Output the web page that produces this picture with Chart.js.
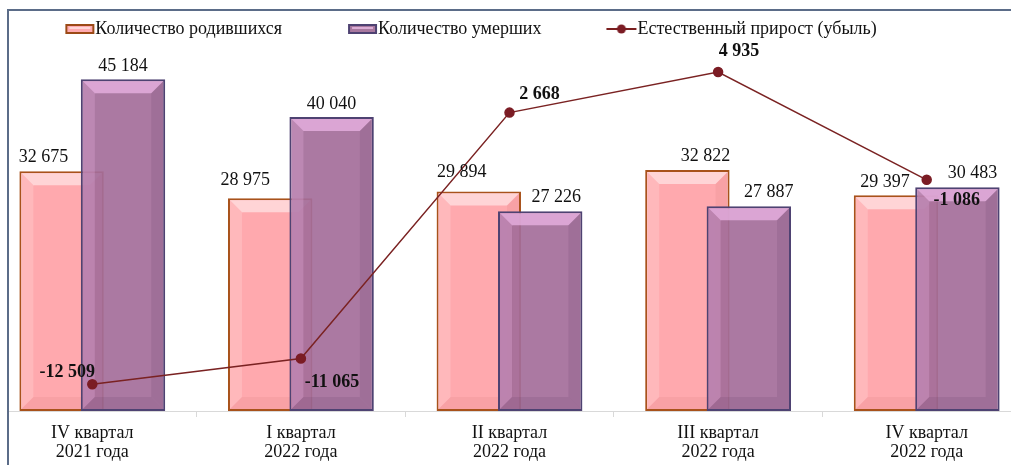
<!DOCTYPE html>
<html lang="ru">
<head>
<meta charset="utf-8">
<script src="https://cdn.jsdelivr.net/npm/chart.js@4.4.1/dist/chart.umd.min.js"></script>
<style>
  html, body { margin: 0; padding: 0; background: #fff; }
  body { width: 1011px; height: 465px; overflow: hidden; position: relative; }
  #box { position: absolute; left: -152px; top: 0; width: 1189px; height: 465px; }
  #mask { position: absolute; left: 0; top: 0; width: 8px; height: 465px; background: #fff; }
  #frame { position: absolute; left: 7px; top: 9px; width: 1100px; height: 600px;
           border-left: 2px solid #5b6c88; border-top: 2px solid #5b6c88; }
</style>
</head>
<body>
<div id="box"><canvas id="chart"></canvas></div>
<div id="mask"></div>
<div id="frame"></div>
<script>
const quarters = [
    ['IV квартал', '2021 года'],
    ['I квартал', '2022 года'],
    ['II квартал', '2022 года'],
    ['III квартал', '2022 года'],
    ['IV квартал', '2022 года']
];
const births = [32675, 28975, 29894, 32822, 29397];
const deaths = [45184, 40040, 27226, 27887, 30483];
const naturalGrowth = [-12509, -11065, 2668, 4935, -1086];
const seriesNames = ['Количество родившихся', 'Количество умерших', 'Естественный прирост (убыль)'];

const FONT = '"Liberation Serif", "Times New Roman", serif';

function fmt(v) {
    const s = String(Math.abs(v)).replace(/\B(?=(\d{3})+(?!\d))/g, ' ');
    return (v < 0 ? '-' : '') + s;
}

// legend markers, drawn to the right side of a wide transparent canvas
function legendIcon(kind) {
    const c = document.createElement('canvas');
    c.width = 96;
    c.height = 14;
    const g = c.getContext('2d');
    if (kind === 'line') {
        g.strokeStyle = '#7a1f1f';
        g.lineWidth = 2;
        g.beginPath();
        g.moveTo(65, 7);
        g.lineTo(95, 7);
        g.stroke();
        g.fillStyle = '#7b1c24';
        g.beginPath();
        g.arc(80, 7, 4.5, 0, Math.PI * 2);
        g.fill();
    } else {
        const pink = kind === 'pink';
        g.fillStyle = pink ? '#9c4a16' : '#4e4272';
        g.fillRect(66, 2, 29, 10);
        g.fillStyle = pink ? '#ffaab0' : '#a8789f';
        g.fillRect(68, 4, 25, 6);
        g.fillStyle = pink ? '#ffd6d8' : '#dcaed6';
        g.fillRect(70, 5, 21, 2);
    }
    return c;
}
const legendIcons = [legendIcon('pink'), legendIcon('purple'), legendIcon('line')];

function bevel(chart, index, light, dark) {
    const ctx = chart.ctx;
    const k = 12;
    chart.getDatasetMeta(index).data.forEach(bar => {
        const p = bar.getProps(['x', 'y', 'base', 'width'], true);
        const l = p.x - p.width / 2 + 2, r = p.x + p.width / 2 - 2, t = p.y + 2, b = p.base - 2;
        ctx.save();
        ctx.fillStyle = light;
        ctx.beginPath();
        ctx.moveTo(l, t); ctx.lineTo(r, t); ctx.lineTo(r - k, t + k); ctx.lineTo(l + k, t + k);
        ctx.closePath();
        ctx.fill();
        ctx.globalAlpha = 0.35;
        ctx.beginPath();
        ctx.moveTo(l, t); ctx.lineTo(l + k, t + k); ctx.lineTo(l + k, b - k); ctx.lineTo(l, b);
        ctx.closePath();
        ctx.fill();
        ctx.globalAlpha = 1;
        ctx.fillStyle = dark;
        ctx.beginPath();
        ctx.moveTo(r, t); ctx.lineTo(r, b); ctx.lineTo(r - k, b - k); ctx.lineTo(r - k, t + k);
        ctx.closePath();
        ctx.fill();
        ctx.beginPath();
        ctx.moveTo(l, b); ctx.lineTo(r, b); ctx.lineTo(r - k, b - k); ctx.lineTo(l + k, b - k);
        ctx.closePath();
        ctx.fill();
        ctx.restore();
    });
}

// pink bars sit left of the purple ones, but the purple ones are drawn on top
const layering = {
    id: 'layering',
    beforeDatasetDraw(chart, args) {
        if (args.index === 1) return false;
        if (args.index === 2) {
            chart.getDatasetMeta(1).controller.draw();
            bevel(chart, 1, 'rgba(235,180,228,0.75)', 'rgba(70,40,80,0.12)');
        }
    },
    afterDatasetDraw(chart, args) {
        if (args.index === 0) bevel(chart, 0, 'rgba(255,222,224,0.8)', 'rgba(150,60,60,0.07)');
    }
};

const valueLabels = {
    id: 'valueLabels',
    afterDatasetsDraw(chart, args, opts) {
        const ctx = chart.ctx;
        ctx.save();
        ctx.textAlign = 'center';
        ctx.textBaseline = 'middle';
        ctx.fillStyle = '#111';
        ctx.font = '18px ' + FONT;
        [0, 1].forEach(di => {
            chart.getDatasetMeta(di).data.forEach((bar, i) => {
                const s = opts.barShift[di][i];
                ctx.fillText(fmt(chart.data.datasets[di].data[i]), bar.x + s[0], bar.y - s[1]);
            });
        });
        ctx.font = 'bold 18px ' + FONT;
        chart.getDatasetMeta(2).data.forEach((pt, i) => {
            const s = opts.lineShift[i];
            ctx.fillText(fmt(chart.data.datasets[2].data[i]), pt.x + s[0], pt.y + s[1]);
        });
        ctx.restore();
    }
};

new Chart(document.getElementById('chart'), {
    type: 'bar',
    data: {
        labels: quarters,
        datasets: [
            {
                label: seriesNames[0],
                data: births,
                backgroundColor: '#ffa9ae',
                borderColor: '#a8521b',
                borderWidth: 2,
                borderSkipped: false,
                barPercentage: 1.374,
                categoryPercentage: 0.589,
                yAxisID: 'y',
                order: 1
            },
            {
                label: seriesNames[1],
                data: deaths,
                backgroundColor: 'rgba(164,110,154,0.92)',
                borderColor: '#4e4272',
                borderWidth: 2,
                borderSkipped: false,
                barPercentage: 1.374,
                categoryPercentage: 0.589,
                yAxisID: 'y',
                order: 2
            },
            {
                type: 'line',
                label: seriesNames[2],
                data: naturalGrowth,
                yAxisID: 'y2',
                borderColor: '#7a2222',
                borderWidth: 1.5,
                pointRadius: 4.5,
                pointBackgroundColor: '#7b1c24',
                pointBorderColor: '#7b1c24',
                tension: 0,
                order: 0
            }
        ]
    },
    options: {
        responsive: true,
        maintainAspectRatio: false,
        animation: false,
        layout: { padding: { top: 11, left: 0, right: 0, bottom: 0 } },
        scales: {
            x: {
                offset: true,
                grid: { offset: true, drawOnChartArea: false, tickLength: 6, color: '#d9d9d9' },
                border: { color: '#d9d9d9', width: 1 },
                ticks: {
                    padding: 6,
                    color: '#111',
                    maxRotation: 0,
                    autoSkip: false,
                    font: { family: FONT, size: 18, lineHeight: 1.1 }
                },
                afterFit(scale) { scale.height = 54; }
            },
            y: {
                position: 'left',
                min: 0,
                max: 50000,
                ticks: { display: false },
                grid: { display: false },
                border: { display: false },
                afterFit(scale) { scale.width = 140; }
            },
            y2: {
                position: 'right',
                display: false,
                min: -14000,
                max: 6500
            }
        },
        plugins: {
            tooltip: { enabled: false },
            legend: {
                maxHeight: 33,
                labels: {
                    usePointStyle: true,
                    pointStyleWidth: 78,
                    padding: 9,
                    color: '#111',
                    font: { family: FONT, size: 18 },
                    sort: (a, b) => a.datasetIndex - b.datasetIndex,
                    generateLabels(chart) {
                        const items = Chart.defaults.plugins.legend.labels.generateLabels(chart);
                        items.forEach(it => { it.pointStyle = legendIcons[it.datasetIndex]; });
                        return items;
                    }
                }
            },
            valueLabels: {
                barShift: [
                    [[-18, 14], [-25, 18], [-17, 19], [18, 14], [-11, 13]],
                    [[0, 13], [0, 13], [16, 14], [20, 14], [15, 14]]
                ],
                lineShift: [[-25, -12], [31, 24], [30, -18], [21, -21], [30, 21]]
            }
        }
    },
    plugins: [layering, valueLabels]
});
</script>
</body>
</html>
